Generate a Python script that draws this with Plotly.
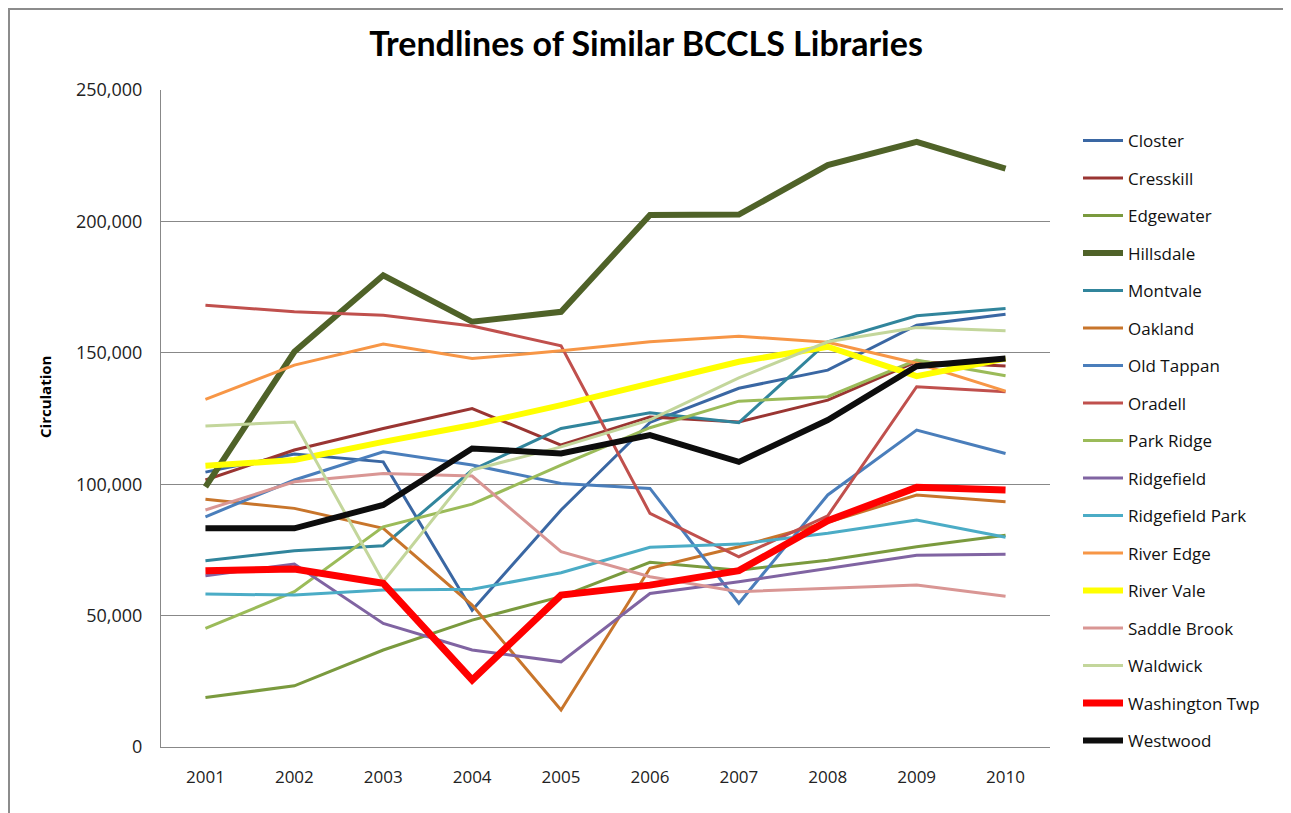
import plotly.graph_objects as go

years = ['2001', '2002', '2003', '2004', '2005', '2006', '2007', '2008', '2009', '2010']

names = ['Closter', 'Cresskill', 'Edgewater', 'Hillsdale', 'Montvale', 'Oakland',
         'Old Tappan', 'Oradell', 'Park Ridge', 'Ridgefield', 'Ridgefield Park',
         'River Edge', 'River Vale', 'Saddle Brook', 'Waldwick', 'Washington Twp', 'Westwood']

closter = [104600, 111500, 108500, 52000, 90200, 123500, 136500, 143400, 160500, 164700]
cresskill = [101600, 113000, 121200, 128800, 114900, 125600, 123700, 132000, 146600, 145000]
edgewater = [18800, 23300, 36900, 48300, 57200, 70300, 67300, 71100, 76200, 80600]
hillsdale = [99000, 150400, 179500, 161800, 165600, 202400, 202600, 221400, 230300, 220100]
montvale = [70900, 74700, 76600, 105400, 121200, 127200, 123400, 154200, 164100, 166900]
oakland = [94300, 90800, 83200, 54000, 14100, 68000, 76200, 85500, 95900, 93300]
old_tappan = [87600, 101600, 112300, 107300, 100300, 98400, 54700, 95900, 120600, 111700]
oradell = [168100, 165600, 164300, 160200, 152700, 88900, 72400, 88000, 137100, 135200]
park_ridge = [45100, 59100, 83800, 92400, 107300, 121500, 131600, 133300, 147200, 141300]
ridgefield = [65200, 69600, 47000, 36900, 32400, 58400, 62900, 68000, 73000, 73300]
ridgefield_park = [58200, 57800, 59700, 60000, 66300, 76000, 77200, 81300, 86400, 79800]
river_edge = [132300, 145300, 153300, 147800, 150800, 154200, 156300, 154000, 146000, 135400]
river_vale = [107000, 109200, 116100, 122500, 130100, 138100, 146600, 152300, 141100, 147800]
saddle_brook = [90200, 100900, 104100, 103100, 74300, 64800, 59100, 60400, 61600, 57400]
waldwick = [122100, 123700, 62900, 105400, 114200, 124500, 140500, 154200, 159600, 158400]
washington_twp = [67100, 67700, 62300, 25500, 57800, 61600, 67100, 86100, 98800, 97800]
westwood = [83200, 83200, 92100, 113600, 111700, 118700, 108500, 124400, 144900, 147800]

series = [closter, cresskill, edgewater, hillsdale, montvale, oakland, old_tappan, oradell,
          park_ridge, ridgefield, ridgefield_park, river_edge, river_vale, saddle_brook,
          waldwick, washington_twp, westwood]

colors = ['#3A67A3', '#9A3532', '#7A9A3E', '#4F6228', '#31859C', '#C8752B', '#4A7EBB',
          '#C0504D', '#9BBB59', '#8064A2', '#4BACC6', '#F79646', '#FFFF00', '#D99694',
          '#C3D69B', '#FF0000', '#0D0D0D']
widths = [3, 3, 3, 6, 3, 3, 3, 3, 3, 3, 3, 3, 6, 3, 3, 7, 6]

fig = go.Figure()
for i, (n, s) in enumerate(zip(names, series)):
    fig.add_trace(go.Scatter(x=years, y=s, name=n, mode='lines', legendgroup=n,
                             line=dict(color=colors[i], width=widths[i])))

font_fam = 'Open Sans, Lato, sans-serif'
W, H = 1283, 805
L, T, R, B = 153, 82, 1042, 739
PW, PH = R - L, B - T

fig.update_layout(
    width=W, height=H,
    margin=dict(l=L, r=W - R, t=T, b=H - B),
    paper_bgcolor='white', plot_bgcolor='white',
    title=dict(text='<b>Trendlines of Similar BCCLS Libraries</b>', x=638 / W, xref='container',
               xanchor='center', y=1 - 36 / H, yanchor='middle', yref='container',
               font=dict(family='Lato, Open Sans, sans-serif', size=34, color='black')),
    xaxis=dict(type='category', range=[-0.5, 9.5], showgrid=False, showline=True,
               linecolor='#888888', linewidth=1, ticks='', ticklabelstandoff=15,
               tickfont=dict(family=font_fam, size=17, color='#222222')),
    yaxis=dict(range=[0, 250000], dtick=50000, tickformat=',', showgrid=True,
               gridcolor='#888888', gridwidth=1, showline=True, linecolor='#888888',
               linewidth=1, ticks='', ticklabelstandoff=14, zeroline=False,
               tickfont=dict(family=font_fam, size=18, color='#222222')),
    legend=dict(x=1070 / W, xref='container', xanchor='left',
                y=1 - 115 / H, yref='container', yanchor='top', maxheight=770,
                font=dict(family=font_fam, size=17, color='#111111'),
                tracegroupgap=12.4, itemwidth=40, bgcolor='rgba(0,0,0,0)'),
    showlegend=True,
    annotations=[dict(text='<b>Circulation</b>', textangle=-90,
                      x=(37 - L) / PW, y=(B - 389) / PH, xanchor='center', yanchor='middle',
                      xref='paper', yref='paper', showarrow=False,
                      font=dict(family=font_fam, size=15, color='black'))],
    shapes=[dict(type='rect', xref='paper', yref='paper',
                 x0=(1 - L) / PW, x1=(1279 - L) / PW,
                 y0=(B - 830) / PH, y1=(B - 1) / PH,
                 line=dict(color='#8C8C8C', width=2), fillcolor='rgba(0,0,0,0)', layer='below')],
)

fig.write_html('out.html')
